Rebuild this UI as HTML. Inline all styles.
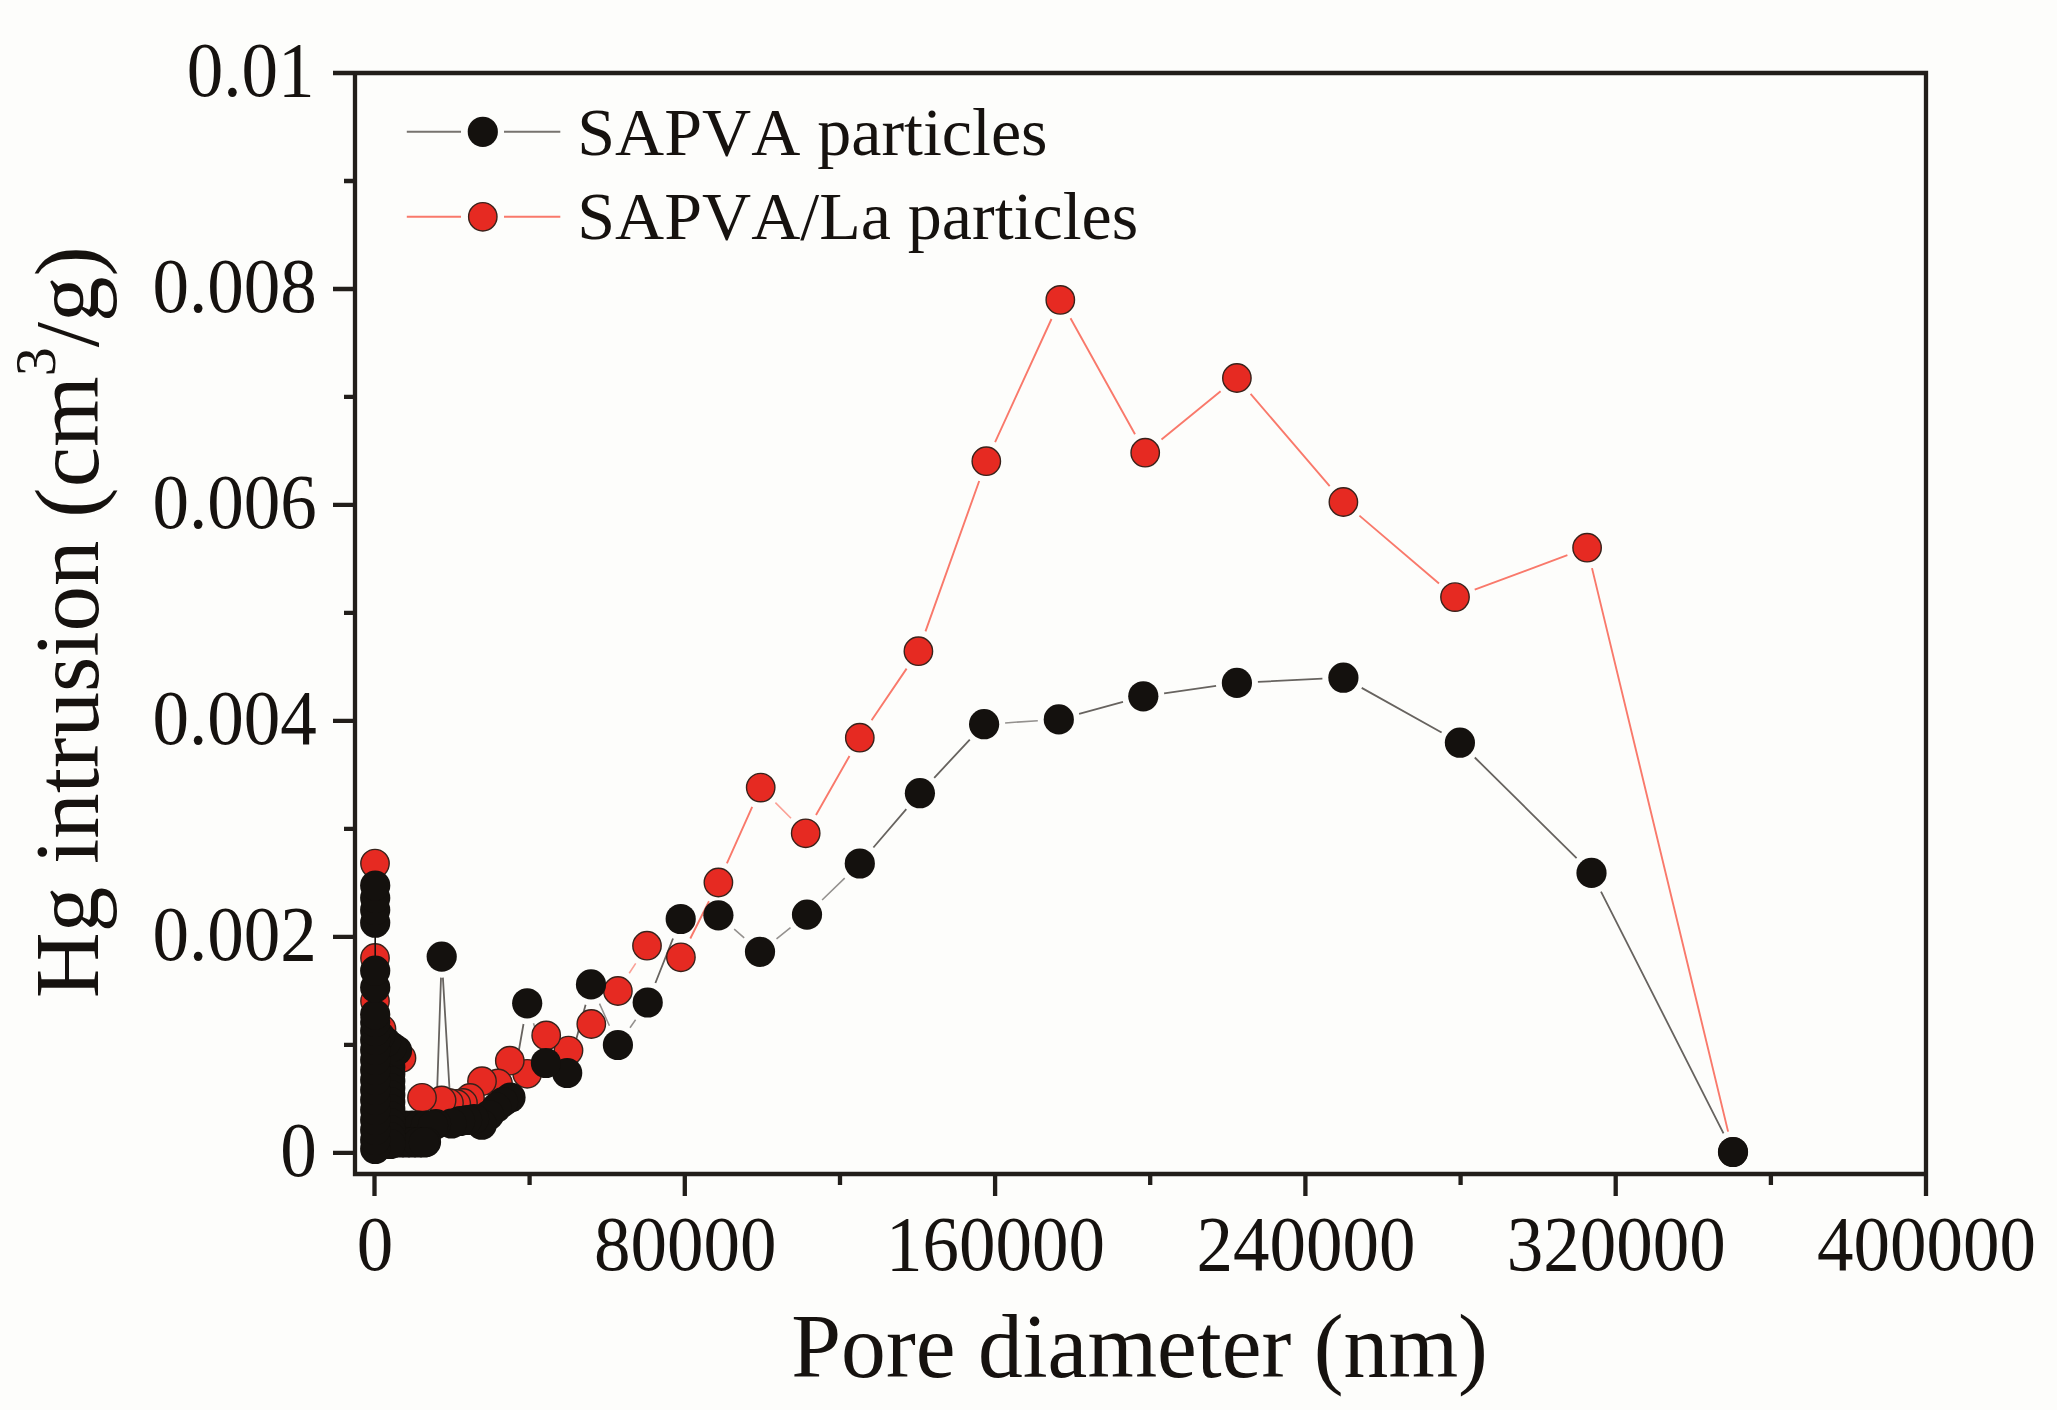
<!DOCTYPE html>
<html lang="en"><head><meta charset="utf-8"><title>Hg intrusion vs pore diameter</title>
<style>html,body{margin:0;padding:0;background:#fdfdfb;}body{width:2057px;height:1410px;overflow:hidden}svg{display:block;filter:blur(0.7px)}</style>
</head><body>
<svg width="2057" height="1410" viewBox="0 0 2057 1410">
<rect width="2057" height="1410" fill="#fdfdfb"/>
<g id="lines">
<path d="M1728.1 1131.6L1592.0 568.1M1567.4 555.1L1474.7 589.7M1439.0 583.5L1359.4 515.6M1329.7 486.1L1250.6 393.9M1220.6 391.3L1161.5 439.4M1135.0 434.3L1070.5 318.3M1051.5 319.0L995.1 442.1M979.2 481.0L925.5 631.4M906.6 668.6L871.6 720.3M849.5 756.0L816.0 815.0M752.2 806.8L726.9 863.3M709.0 901.3L690.3 938.5" stroke="#f9796b" stroke-width="1.9" fill="none"/><path d="M791.0 818.3L775.4 802.6M635.7 963.4L629.2 973.3M536.9 1054.2L536.5 1055.0" stroke="#f9796b" stroke-width="1.61" stroke-opacity="0.7" fill="none"/>
<path d="M1723.5 1133.3L1601.0 891.6M1576.6 858.1L1474.8 757.5M1441.6 732.5L1361.7 687.9M1322.4 678.7L1257.9 681.9M1216.1 685.9L1164.1 693.3M1123.0 701.8L1079.1 713.9M969.8 739.6L934.2 777.8M906.3 809.2L873.4 847.5M673.0 938.5L655.4 983.0M585.6 1004.7L572.6 1052.7M523.5 1024.0L514.2 1076.8M450.3 1102.5L442.9 977.6M441.0 977.6L436.7 1103.0" stroke="#67635f" stroke-width="1.8" fill="none"/><path d="M1037.8 720.7L1005.1 722.9M844.7 878.1L822.1 900.0M790.5 927.6L776.5 938.8M744.2 937.9L734.2 929.2M635.6 1019.7L630.0 1027.8M609.4 1025.8L599.5 1003.6M539.6 1043.0L533.5 1023.3" stroke="#67635f" stroke-width="1.53" stroke-opacity="0.7" fill="none"/>
</g>
<g id="red">
<circle cx="1733.0" cy="1152.0" r="14.2" fill="#e62a22" stroke="#38221b" stroke-width="1.4"/>
<circle cx="1587.1" cy="547.7" r="14.2" fill="#e62a22" stroke="#38221b" stroke-width="1.4"/>
<circle cx="1455.0" cy="597.1" r="14.2" fill="#e62a22" stroke="#38221b" stroke-width="1.4"/>
<circle cx="1343.4" cy="502.0" r="14.2" fill="#e62a22" stroke="#38221b" stroke-width="1.4"/>
<circle cx="1236.9" cy="378.0" r="14.2" fill="#e62a22" stroke="#38221b" stroke-width="1.4"/>
<circle cx="1145.2" cy="452.7" r="14.2" fill="#e62a22" stroke="#38221b" stroke-width="1.4"/>
<circle cx="1060.3" cy="299.9" r="14.2" fill="#e62a22" stroke="#38221b" stroke-width="1.4"/>
<circle cx="986.3" cy="461.2" r="14.2" fill="#e62a22" stroke="#38221b" stroke-width="1.4"/>
<circle cx="918.4" cy="651.2" r="14.2" fill="#e62a22" stroke="#38221b" stroke-width="1.4"/>
<circle cx="859.8" cy="737.7" r="14.2" fill="#e62a22" stroke="#38221b" stroke-width="1.4"/>
<circle cx="805.7" cy="833.3" r="14.2" fill="#e62a22" stroke="#38221b" stroke-width="1.4"/>
<circle cx="760.7" cy="787.6" r="14.2" fill="#e62a22" stroke="#38221b" stroke-width="1.4"/>
<circle cx="718.4" cy="882.5" r="14.2" fill="#e62a22" stroke="#38221b" stroke-width="1.4"/>
<circle cx="680.9" cy="957.3" r="14.2" fill="#e62a22" stroke="#38221b" stroke-width="1.4"/>
<circle cx="647.0" cy="945.7" r="14.2" fill="#e62a22" stroke="#38221b" stroke-width="1.4"/>
<circle cx="617.9" cy="991.0" r="14.2" fill="#e62a22" stroke="#38221b" stroke-width="1.4"/>
<circle cx="591.3" cy="1024.0" r="14.2" fill="#e62a22" stroke="#38221b" stroke-width="1.4"/>
<circle cx="568.5" cy="1050.6" r="14.2" fill="#e62a22" stroke="#38221b" stroke-width="1.4"/>
<circle cx="546.2" cy="1035.4" r="14.2" fill="#e62a22" stroke="#38221b" stroke-width="1.4"/>
<circle cx="527.2" cy="1073.8" r="14.2" fill="#e62a22" stroke="#38221b" stroke-width="1.4"/>
<circle cx="509.8" cy="1060.7" r="14.2" fill="#e62a22" stroke="#38221b" stroke-width="1.4"/>
<circle cx="498.0" cy="1083.5" r="14.2" fill="#e62a22" stroke="#38221b" stroke-width="1.4"/>
<circle cx="482.0" cy="1081.2" r="14.2" fill="#e62a22" stroke="#38221b" stroke-width="1.4"/>
<circle cx="470.0" cy="1098.0" r="14.2" fill="#e62a22" stroke="#38221b" stroke-width="1.4"/>
<circle cx="463.0" cy="1103.0" r="14.2" fill="#e62a22" stroke="#38221b" stroke-width="1.4"/>
<circle cx="456.3" cy="1104.0" r="14.2" fill="#e62a22" stroke="#38221b" stroke-width="1.4"/>
<circle cx="449.0" cy="1103.0" r="14.2" fill="#e62a22" stroke="#38221b" stroke-width="1.4"/>
<circle cx="441.6" cy="1100.5" r="14.2" fill="#e62a22" stroke="#38221b" stroke-width="1.4"/>
<circle cx="422.0" cy="1097.8" r="14.2" fill="#e62a22" stroke="#38221b" stroke-width="1.4"/>
<circle cx="401.5" cy="1058.0" r="14.2" fill="#e62a22" stroke="#38221b" stroke-width="1.4"/>
<circle cx="392.0" cy="1142.5" r="14.2" fill="#e62a22" stroke="#38221b" stroke-width="1.4"/>
<circle cx="381.5" cy="1029.0" r="14.2" fill="#e62a22" stroke="#38221b" stroke-width="1.4"/>
<circle cx="375.0" cy="1001.0" r="14.2" fill="#e62a22" stroke="#38221b" stroke-width="1.4"/>
<circle cx="375.0" cy="958.0" r="14.2" fill="#e62a22" stroke="#38221b" stroke-width="1.4"/>
<circle cx="375.0" cy="863.6" r="14.2" fill="#e62a22" stroke="#38221b" stroke-width="1.4"/>
</g>
<g id="black">
<path d="M375.2 924V972" stroke="#14110e" stroke-width="1.6"/>
<circle cx="1733.0" cy="1152.0" r="15.1" fill="#14110e"/>
<circle cx="1591.5" cy="872.9" r="15.1" fill="#14110e"/>
<circle cx="1459.9" cy="742.7" r="15.1" fill="#14110e"/>
<circle cx="1343.4" cy="677.7" r="15.1" fill="#14110e"/>
<circle cx="1236.9" cy="682.9" r="15.1" fill="#14110e"/>
<circle cx="1143.3" cy="696.3" r="15.1" fill="#14110e"/>
<circle cx="1058.8" cy="719.4" r="15.1" fill="#14110e"/>
<circle cx="984.1" cy="724.2" r="15.1" fill="#14110e"/>
<circle cx="919.9" cy="793.2" r="15.1" fill="#14110e"/>
<circle cx="859.8" cy="863.5" r="15.1" fill="#14110e"/>
<circle cx="807.0" cy="914.6" r="15.1" fill="#14110e"/>
<circle cx="760.0" cy="951.8" r="15.1" fill="#14110e"/>
<circle cx="718.4" cy="915.3" r="15.1" fill="#14110e"/>
<circle cx="680.7" cy="919.0" r="15.1" fill="#14110e"/>
<circle cx="647.7" cy="1002.5" r="15.1" fill="#14110e"/>
<circle cx="617.9" cy="1045.0" r="15.1" fill="#14110e"/>
<circle cx="591.0" cy="984.4" r="15.1" fill="#14110e"/>
<circle cx="567.2" cy="1073.0" r="15.1" fill="#14110e"/>
<circle cx="545.9" cy="1063.0" r="15.1" fill="#14110e"/>
<circle cx="527.2" cy="1003.3" r="15.1" fill="#14110e"/>
<circle cx="510.5" cy="1097.5" r="15.1" fill="#14110e"/>
<circle cx="503.0" cy="1102.0" r="15.1" fill="#14110e"/>
<circle cx="496.4" cy="1107.6" r="15.1" fill="#14110e"/>
<circle cx="489.0" cy="1115.0" r="15.1" fill="#14110e"/>
<circle cx="481.8" cy="1124.7" r="15.1" fill="#14110e"/>
<circle cx="474.0" cy="1119.0" r="15.1" fill="#14110e"/>
<circle cx="467.0" cy="1120.0" r="15.1" fill="#14110e"/>
<circle cx="460.0" cy="1121.0" r="15.1" fill="#14110e"/>
<circle cx="451.5" cy="1123.5" r="15.1" fill="#14110e"/>
<circle cx="441.7" cy="956.6" r="15.1" fill="#14110e"/>
<circle cx="436.0" cy="1124.0" r="15.1" fill="#14110e"/>
<circle cx="405.0" cy="1125.5" r="15.1" fill="#14110e"/>
<circle cx="412.0" cy="1125.5" r="15.1" fill="#14110e"/>
<circle cx="419.0" cy="1125.5" r="15.1" fill="#14110e"/>
<circle cx="426.0" cy="1125.5" r="15.1" fill="#14110e"/>
<circle cx="433.0" cy="1125.5" r="15.1" fill="#14110e"/>
<circle cx="405.0" cy="1142.0" r="15.1" fill="#14110e"/>
<circle cx="412.0" cy="1142.0" r="15.1" fill="#14110e"/>
<circle cx="419.0" cy="1142.0" r="15.1" fill="#14110e"/>
<circle cx="426.0" cy="1142.0" r="15.1" fill="#14110e"/>
<circle cx="376.0" cy="1142.5" r="15.1" fill="#14110e"/>
<circle cx="382.0" cy="1142.5" r="15.1" fill="#14110e"/>
<circle cx="388.0" cy="1142.5" r="15.1" fill="#14110e"/>
<circle cx="394.0" cy="1142.5" r="15.1" fill="#14110e"/>
<circle cx="400.0" cy="1142.5" r="15.1" fill="#14110e"/>
<circle cx="406.0" cy="1142.5" r="15.1" fill="#14110e"/>
<circle cx="412.0" cy="1142.5" r="15.1" fill="#14110e"/>
<circle cx="418.0" cy="1142.5" r="15.1" fill="#14110e"/>
<circle cx="424.0" cy="1142.5" r="15.1" fill="#14110e"/>
<circle cx="383.0" cy="1060.0" r="15.1" fill="#14110e"/>
<circle cx="390.3" cy="1060.0" r="15.1" fill="#14110e"/>
<circle cx="383.0" cy="1067.0" r="15.1" fill="#14110e"/>
<circle cx="390.3" cy="1067.0" r="15.1" fill="#14110e"/>
<circle cx="383.0" cy="1074.0" r="15.1" fill="#14110e"/>
<circle cx="390.3" cy="1074.0" r="15.1" fill="#14110e"/>
<circle cx="383.0" cy="1081.0" r="15.1" fill="#14110e"/>
<circle cx="390.3" cy="1081.0" r="15.1" fill="#14110e"/>
<circle cx="383.0" cy="1088.0" r="15.1" fill="#14110e"/>
<circle cx="390.3" cy="1088.0" r="15.1" fill="#14110e"/>
<circle cx="383.0" cy="1095.0" r="15.1" fill="#14110e"/>
<circle cx="390.3" cy="1095.0" r="15.1" fill="#14110e"/>
<circle cx="383.0" cy="1102.0" r="15.1" fill="#14110e"/>
<circle cx="390.3" cy="1102.0" r="15.1" fill="#14110e"/>
<circle cx="383.0" cy="1109.0" r="15.1" fill="#14110e"/>
<circle cx="390.3" cy="1109.0" r="15.1" fill="#14110e"/>
<circle cx="383.0" cy="1116.0" r="15.1" fill="#14110e"/>
<circle cx="390.3" cy="1116.0" r="15.1" fill="#14110e"/>
<circle cx="383.0" cy="1123.0" r="15.1" fill="#14110e"/>
<circle cx="390.3" cy="1123.0" r="15.1" fill="#14110e"/>
<circle cx="383.0" cy="1130.0" r="15.1" fill="#14110e"/>
<circle cx="390.3" cy="1130.0" r="15.1" fill="#14110e"/>
<circle cx="383.0" cy="1137.0" r="15.1" fill="#14110e"/>
<circle cx="390.3" cy="1137.0" r="15.1" fill="#14110e"/>
<circle cx="383.0" cy="1144.0" r="15.1" fill="#14110e"/>
<circle cx="390.3" cy="1144.0" r="15.1" fill="#14110e"/>
<circle cx="397.0" cy="1050.5" r="15.1" fill="#14110e"/>
<circle cx="392.0" cy="1047.0" r="15.1" fill="#14110e"/>
<circle cx="386.0" cy="1042.0" r="15.1" fill="#14110e"/>
<circle cx="380.0" cy="1036.0" r="15.1" fill="#14110e"/>
<circle cx="375.2" cy="1149.0" r="15.1" fill="#14110e"/>
<circle cx="375.2" cy="1140.0" r="15.1" fill="#14110e"/>
<circle cx="375.2" cy="1130.0" r="15.1" fill="#14110e"/>
<circle cx="375.2" cy="1120.0" r="15.1" fill="#14110e"/>
<circle cx="375.2" cy="1110.0" r="15.1" fill="#14110e"/>
<circle cx="375.2" cy="1100.0" r="15.1" fill="#14110e"/>
<circle cx="375.2" cy="1090.0" r="15.1" fill="#14110e"/>
<circle cx="375.2" cy="1080.0" r="15.1" fill="#14110e"/>
<circle cx="375.2" cy="1070.0" r="15.1" fill="#14110e"/>
<circle cx="375.2" cy="1060.0" r="15.1" fill="#14110e"/>
<circle cx="375.2" cy="1050.0" r="15.1" fill="#14110e"/>
<circle cx="375.2" cy="1040.0" r="15.1" fill="#14110e"/>
<circle cx="375.2" cy="1031.0" r="15.1" fill="#14110e"/>
<circle cx="375.2" cy="1022.0" r="15.1" fill="#14110e"/>
<circle cx="375.2" cy="1014.5" r="15.1" fill="#14110e"/>
<circle cx="375.2" cy="987.5" r="15.1" fill="#14110e"/>
<circle cx="375.2" cy="970.7" r="15.1" fill="#14110e"/>
<circle cx="375.2" cy="922.7" r="15.1" fill="#14110e"/>
<circle cx="375.2" cy="910.0" r="15.1" fill="#14110e"/>
<circle cx="375.2" cy="898.0" r="15.1" fill="#14110e"/>
<circle cx="375.2" cy="885.5" r="15.1" fill="#14110e"/>
</g>
<g stroke="#221e1a" stroke-width="4.3" fill="none" stroke-linecap="butt">
<path d="M333.0 73.0H1926.0V1196.0"/>
<path d="M355.0 73.0V1174.0H1926.0"/>
<path d="M333.0 1152.8H355.0M344.0 1044.8H355.0M333.0 936.8H355.0M344.0 828.9H355.0M333.0 720.9H355.0M344.0 612.9H355.0M333.0 504.9H355.0M344.0 396.9H355.0M333.0 289.0H355.0M344.0 181.0H355.0M374.5 1174.0V1196.0M529.6 1174.0V1185.0M684.8 1174.0V1196.0M840.0 1174.0V1185.0M995.1 1174.0V1196.0M1150.2 1174.0V1185.0M1305.4 1174.0V1196.0M1460.6 1174.0V1185.0M1615.7 1174.0V1196.0M1770.9 1174.0V1185.0"/>
</g>
<g font-family="'Liberation Serif', 'Times New Roman', serif" fill="#16120f" style="font-kerning:none">
<text transform="translate(316.8 1176.0) scale(1.015 1.08)" font-size="72" text-anchor="end">0</text>
<text transform="translate(316.8 960.0) scale(1.015 1.08)" font-size="72" text-anchor="end">0.002</text>
<text transform="translate(316.8 744.1) scale(1.015 1.08)" font-size="72" text-anchor="end">0.004</text>
<text transform="translate(316.8 528.1) scale(1.015 1.08)" font-size="72" text-anchor="end">0.006</text>
<text transform="translate(316.8 312.2) scale(1.015 1.08)" font-size="72" text-anchor="end">0.008</text>
<text transform="translate(314.5 96.2) scale(1.015 1.08)" font-size="72" text-anchor="end">0.01</text>
<text transform="translate(375.0 1269.6) scale(1.014 1.08)" font-size="72" text-anchor="middle">0</text>
<text transform="translate(685.3 1269.6) scale(1.014 1.08)" font-size="72" text-anchor="middle">80000</text>
<text transform="translate(995.6 1269.6) scale(1.014 1.08)" font-size="72" text-anchor="middle">160000</text>
<text transform="translate(1305.9 1269.6) scale(1.014 1.08)" font-size="72" text-anchor="middle">240000</text>
<text transform="translate(1616.2 1269.6) scale(1.014 1.08)" font-size="72" text-anchor="middle">320000</text>
<text transform="translate(1926.5 1269.6) scale(1.014 1.08)" font-size="72" text-anchor="middle">400000</text>
<text transform="translate(1139.6 1376.8) scale(1.007 1.02)" font-size="89" text-anchor="middle">Pore diameter (nm)</text>
<text transform="translate(98.3 622) rotate(-90)" font-size="91" text-anchor="middle">Hg intrusion (cm<tspan font-size="58" dy="-43.5">3</tspan><tspan dy="43.5">/g)</tspan></text>
<text x="577.3" y="154.6" font-size="68">SAPVA particles</text>
<text x="577.3" y="238.9" font-size="68">SAPVA/La particles</text>
</g>
<path d="M406.8 131.8H461M504 131.8H560.3" stroke="#77736f" stroke-width="2"/>
<circle cx="482.8" cy="131.8" r="15.1" fill="#14110e"/>
<path d="M406.8 216.8H461M504 216.8H560.3" stroke="#f9796b" stroke-width="2"/>
<circle cx="482.8" cy="216.8" r="14.2" fill="#e62a22" stroke="#38221b" stroke-width="1.4"/>
</svg>
</body></html>
